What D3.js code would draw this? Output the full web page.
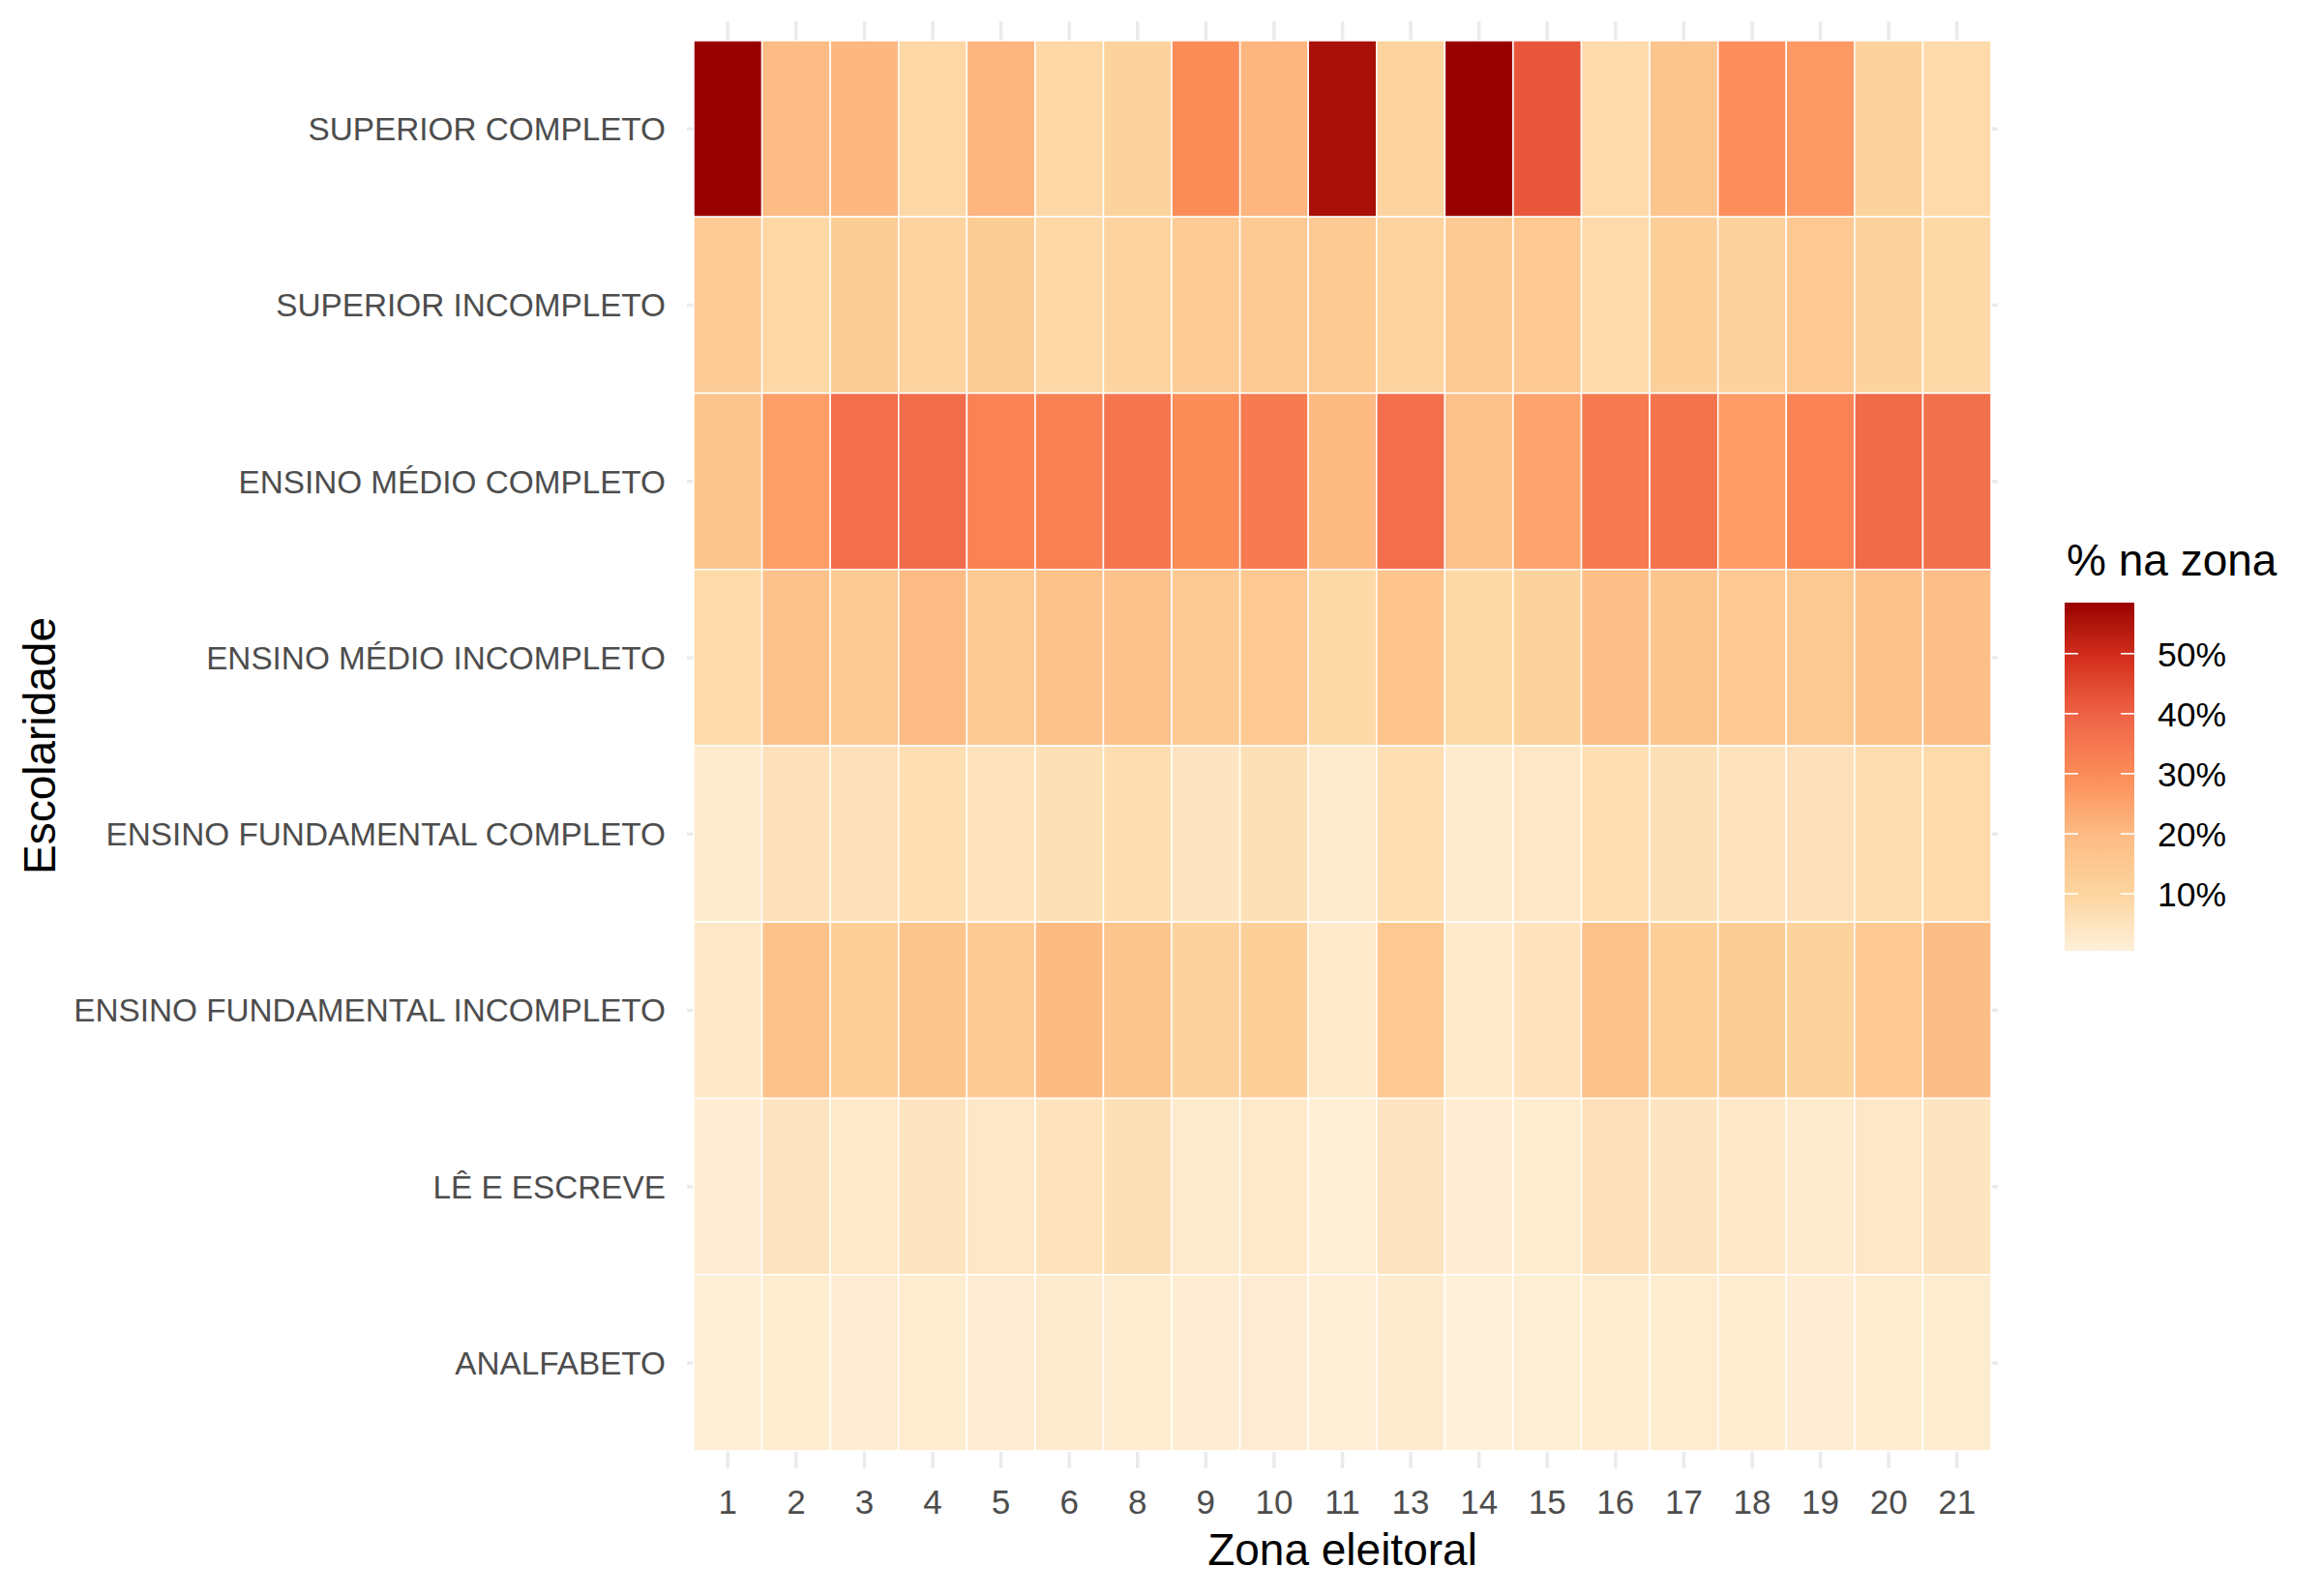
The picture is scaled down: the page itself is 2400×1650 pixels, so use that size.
<!DOCTYPE html>
<html>
<head>
<meta charset="utf-8">
<script src="https://cdn.jsdelivr.net/npm/d3@7"></script>
<style>
  html, body { margin: 0; padding: 0; background: #ffffff; }
  svg { display: block; font-family: "Liberation Sans", Arial, sans-serif; }
</style>
</head>
<body>
<svg id="chart" width="2400" height="1650"></svg>
<script>
// ---------------- DATA ----------------
const zones = ["1","2","3","4","5","6","8","9","10","11","13","14","15","16","17","18","19","20","21"];
const levels = [
  "SUPERIOR COMPLETO",
  "SUPERIOR INCOMPLETO",
  "ENSINO MÉDIO COMPLETO",
  "ENSINO MÉDIO INCOMPLETO",
  "ENSINO FUNDAMENTAL COMPLETO",
  "ENSINO FUNDAMENTAL INCOMPLETO",
  "LÊ E ESCREVE",
  "ANALFABETO"
];
// % of voters in each zone, one array per schooling level (order follows zones)
const superiorCompleto      = [58.5, 19.5, 20.5,  9.0, 21.0,  9.0, 10.5, 29.5, 21.0, 56.0, 10.0, 58.5, 42.0,  8.0, 16.0, 29.0, 27.0, 10.5,  8.0];
const superiorIncompleto    = [13.5,  9.0, 13.0, 10.0, 13.0,  9.0, 10.0, 13.5, 14.0, 14.0, 10.0, 14.0, 15.0,  8.0, 12.0, 11.0, 15.0, 10.5,  8.5];
const medioCompleto         = [16.0, 26.0, 37.0, 37.5, 32.0, 32.5, 35.5, 29.5, 34.0, 20.0, 37.0, 17.5, 25.0, 34.0, 36.0, 26.5, 32.0, 38.0, 36.5];
const medioIncompleto       = [ 8.0, 17.0, 14.0, 19.5, 14.5, 17.5, 17.0, 14.0, 15.0,  8.5, 16.5,  8.5, 10.5, 18.5, 16.0, 15.0, 14.5, 17.0, 18.5];
const fundamentalCompleto   = [ 2.5,  5.5,  5.5,  6.5,  5.0,  6.0,  7.0,  4.5,  6.0,  2.5,  6.5,  2.5,  3.5,  6.5,  6.0,  5.0,  5.5,  7.0,  8.0];
const fundamentalIncompleto = [ 3.5, 17.0, 12.0, 16.0, 14.0, 20.0, 16.0, 11.0, 12.0,  3.0, 15.0,  3.0,  5.0, 17.5, 12.5, 13.0, 10.5, 15.0, 19.0];
const leEscreve             = [ 1.5,  4.5,  3.0,  4.5,  3.5,  5.0,  6.0,  2.5,  3.0,  1.3,  4.5,  1.5,  2.0,  5.5,  4.5,  3.5,  2.5,  3.5,  4.5];
const analfabeto            = [ 1.2,  1.8,  1.6,  1.8,  1.7,  2.2,  2.0,  1.5,  1.7,  1.2,  2.2,  0.5,  1.3,  2.0,  1.8,  1.8,  1.5,  1.8,  2.0];
const seriesByLevel = [superiorCompleto, superiorIncompleto, medioCompleto, medioIncompleto,
                       fundamentalCompleto, fundamentalIncompleto, leEscreve, analfabeto];
const legendTicks = [10, 20, 30, 40, 50];
const paletteOrRd = ["#fef0d9","#fdd49e","#fdbb84","#fc8d59","#ef6548","#d7301f","#990000"];

const xTitle = "Zona eleitoral";
const yTitle = "Escolaridade";
const legendTitle = "% na zona";

// ---------------- BUILD ----------------
const cells = [];
levels.forEach((lev, i) => {
  zones.forEach((z, j) => cells.push({ level: lev, zone: z, value: seriesByLevel[i][j] }));
});

const svg = d3.select("#chart");
svg.append("rect").attr("width", 2400).attr("height", 1650).attr("fill", "#ffffff");

const panel = { left: 717, right: 2058, top: 42, bottom: 1500 };
const x = d3.scaleBand().domain(zones).range([panel.left, panel.right]).padding(0);
const y = d3.scaleBand().domain(levels).range([panel.top, panel.bottom]).padding(0);

const ext = d3.extent(cells, d => d.value);
const stops = paletteOrRd.map((_, i) => ext[0] + (ext[1] - ext[0]) * i / (paletteOrRd.length - 1));
const color = d3.scaleLinear().domain(stops).range(paletteOrRd).interpolate(d3.interpolateLab);

// grid lines (theme_minimal) behind tiles
const grid = svg.append("g").attr("stroke", "#EBEBEB").attr("stroke-width", 3.5);
grid.selectAll("line.v").data(zones).join("line")
  .attr("x1", d => x(d) + x.bandwidth() / 2).attr("x2", d => x(d) + x.bandwidth() / 2)
  .attr("y1", panel.top - 20).attr("y2", panel.bottom + 18);
grid.selectAll("line.h").data(levels).join("line")
  .attr("y1", d => y(d) + y.bandwidth() / 2).attr("y2", d => y(d) + y.bandwidth() / 2)
  .attr("x1", panel.left - 7).attr("x2", panel.right + 7);

// tiles
svg.append("g").selectAll("rect").data(cells).join("rect")
  .attr("x", d => x(d.zone)).attr("y", d => y(d.level))
  .attr("width", x.bandwidth()).attr("height", y.bandwidth())
  .attr("fill", d => color(d.value))
  .attr("stroke", "#ffffff").attr("stroke-width", 1.5);

// axes
const xAxis = svg.append("g").attr("transform", `translate(0,${panel.bottom})`)
  .call(d3.axisBottom(x).tickSize(0));
xAxis.select(".domain").remove();
xAxis.selectAll("text").attr("y", 65).attr("dy", 0)
  .attr("font-size", 35).attr("fill", "#4D4D4D")
  .attr("font-family", '"Liberation Sans", Arial, sans-serif');

const yAxis = svg.append("g").attr("transform", `translate(688,0)`)
  .call(d3.axisLeft(y).tickSize(0).tickPadding(0));
yAxis.select(".domain").remove();
yAxis.selectAll("text").attr("dy", "0.36em")
  .attr("font-size", 33.3).attr("fill", "#4D4D4D")
  .attr("font-family", '"Liberation Sans", Arial, sans-serif');

// axis titles
svg.append("text").attr("x", (panel.left + panel.right) / 2).attr("y", 1618)
  .attr("text-anchor", "middle").attr("font-size", 46).attr("fill", "#000").text(xTitle);
svg.append("text").attr("transform", `translate(57,${(panel.top + panel.bottom) / 2}) rotate(-90)`)
  .attr("text-anchor", "middle").attr("font-size", 46).attr("fill", "#000").text(yTitle);

// legend
const leg = { x: 2134, w: 72, top: 623, bottom: 983 };
svg.append("text").attr("x", 2136).attr("y", 595).attr("font-size", 46).attr("fill", "#000").text(legendTitle);

const defs = svg.append("defs");
const grad = defs.append("linearGradient").attr("id", "lg").attr("x1", 0).attr("y1", 1).attr("x2", 0).attr("y2", 0);
d3.range(0, 101).forEach(i => {
  const v = ext[0] + (ext[1] - ext[0]) * i / 100;
  grad.append("stop").attr("offset", `${i}%`).attr("stop-color", color(v));
});
svg.append("rect").attr("x", leg.x).attr("y", leg.top).attr("width", leg.w).attr("height", leg.bottom - leg.top)
  .attr("fill", "url(#lg)");

const ly = d3.scaleLinear().domain(ext).range([leg.bottom, leg.top]);
const tk = svg.append("g").attr("stroke", "#ffffff").attr("stroke-width", 1.6);
legendTicks.forEach(t => {
  tk.append("line").attr("x1", leg.x).attr("x2", leg.x + 14).attr("y1", ly(t)).attr("y2", ly(t));
  tk.append("line").attr("x1", leg.x + leg.w - 14).attr("x2", leg.x + leg.w).attr("y1", ly(t)).attr("y2", ly(t));
});
const lAxis = svg.append("g").attr("transform", `translate(2230,0)`)
  .call(d3.axisRight(ly).tickValues(legendTicks).tickSize(0).tickPadding(0).tickFormat(d => d + "%"));
lAxis.select(".domain").remove();
lAxis.selectAll("text").attr("dy", "0.36em").attr("font-size", 35.5).attr("fill", "#000")
  .attr("font-family", '"Liberation Sans", Arial, sans-serif');
</script>
</body>
</html>
